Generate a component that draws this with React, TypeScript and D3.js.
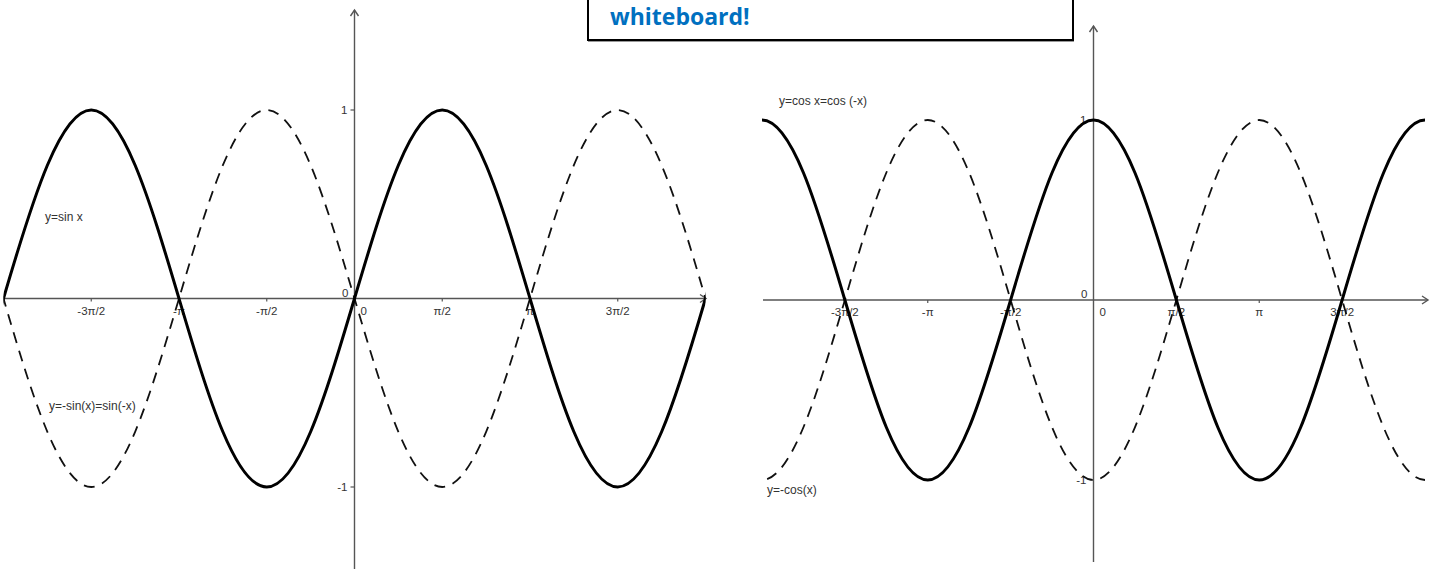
import React from "react";
import * as d3 from "d3";

// sample positions in multiples of π/4 (a little past -2π..2π so the spline ends are natural; clipped)
const quarterPiSteps = [-10, -9, -8, -7, -6, -5, -4, -3, -2, -1, 0, 1, 2, 3, 4, 5, 6, 7, 8, 9, 10];
const sinValues = [-1, -0.7071, 0, 0.7071, 1, 0.7071, 0, -0.7071, -1, -0.7071, 0, 0.7071, 1, 0.7071, 0, -0.7071, -1, -0.7071, 0, 0.7071, 1];
const negSinValues = [1, 0.7071, 0, -0.7071, -1, -0.7071, 0, 0.7071, 1, 0.7071, 0, -0.7071, -1, -0.7071, 0, 0.7071, 1, 0.7071, 0, -0.7071, -1];
const cosValues = [0, 0.7071, 1, 0.7071, 0, -0.7071, -1, -0.7071, 0, 0.7071, 1, 0.7071, 0, -0.7071, -1, -0.7071, 0, 0.7071, 1, 0.7071, 0];
const negCosValues = [0, -0.7071, -1, -0.7071, 0, 0.7071, 1, 0.7071, 0, -0.7071, -1, -0.7071, 0, 0.7071, 1, 0.7071, 0, -0.7071, -1, -0.7071, 0];

// x tick positions in multiples of π/2
const halfPiTicks = [-3, -2, -1, 0, 1, 2, 3];
const tickLabels = ["-3π/2", "-π", "-π/2", "0", "π/2", "π", "3π/2"];
const yTickValues = [1, -1];
const yTickLabels = ["1", "-1"];

const title = "whiteboard!";

const PI = Math.PI;

type Panel = {
  id: string;
  xRange: [number, number];
  yRange: [number, number];
  axisX: [number, number];
  axisY: [number, number];
  solid: number[];
  dashed: number[];
  labels: { text: string; x: number; y: number }[];
};

const panels: Panel[] = [
  {
    id: "left",
    xRange: [3.5, 705.5],
    yRange: [487, 110],
    axisX: [5, 706],
    axisY: [10, 569],
    solid: sinValues,
    dashed: negSinValues,
    labels: [
      { text: "y=sin x", x: 45, y: 221 },
      { text: "y=-sin(x)=sin(-x)", x: 49, y: 410 },
    ],
  },
  {
    id: "right",
    xRange: [762, 1425],
    yRange: [480, 120],
    axisX: [763, 1428],
    axisY: [26, 562],
    solid: cosValues,
    dashed: negCosValues,
    labels: [
      { text: "y=cos x=cos (-x)", x: 779, y: 105 },
      { text: "y=-cos(x)", x: 767, y: 494 },
    ],
  },
];

const axisColor = "#555";
const textColor = "#333";
const font = "Liberation Sans, Arial, sans-serif";

function PanelView({ p }: { p: Panel }) {
  const x = d3.scaleLinear().domain([-2 * PI, 2 * PI]).range(p.xRange);
  const y = d3.scaleLinear().domain([-1, 1]).range(p.yRange);
  const x0 = x(0);
  const y0 = y(0);
  const line = d3
    .line<number>()
    .x((_, i) => x((quarterPiSteps[i] * PI) / 4))
    .y((v) => y(v))
    .curve(d3.curveNatural);
  const clipId = `clip-${p.id}`;
  return (
    <g>
      <defs>
        <clipPath id={clipId}>
          <rect x={p.xRange[0]} y={0} width={p.xRange[1] - p.xRange[0]} height={569} />
        </clipPath>
      </defs>
      {/* axes */}
      <line x1={p.axisX[0]} x2={p.axisX[1]} y1={y0} y2={y0} stroke={axisColor} strokeWidth={1.4} />
      <path
        d={`M${p.axisX[1] - 6},${y0 - 4} L${p.axisX[1]},${y0} L${p.axisX[1] - 6},${y0 + 4}`}
        fill="none"
        stroke={axisColor}
        strokeWidth={1.4}
      />
      <line x1={x0} x2={x0} y1={p.axisY[0]} y2={p.axisY[1]} stroke={axisColor} strokeWidth={1.4} />
      <path
        d={`M${x0 - 4},${p.axisY[0] + 6} L${x0},${p.axisY[0]} L${x0 + 4},${p.axisY[0] + 6}`}
        fill="none"
        stroke={axisColor}
        strokeWidth={1.4}
      />
      {/* x ticks */}
      {halfPiTicks.map((t, i) => {
        const xx = x((t * PI) / 2);
        return (
          <g key={i}>
            {t !== 0 && <line x1={xx} x2={xx} y1={y0} y2={y0 + 3} stroke={axisColor} strokeWidth={1.2} />}
            <text
              x={t === 0 ? xx + 6 : xx}
              y={y0 + 16}
              fontSize={11.5}
              fontFamily={font}
              fill={textColor}
              textAnchor={t === 0 ? "start" : "middle"}
            >
              {tickLabels[i]}
            </text>
          </g>
        );
      })}
      {/* y ticks */}
      {yTickValues.map((v, i) => (
        <g key={i}>
          <line x1={x0 - 4} x2={x0} y1={y(v)} y2={y(v)} stroke={axisColor} strokeWidth={1.2} />
          <text x={x0 - 7} y={y(v) + 4} fontSize={11.5} fontFamily={font} fill={textColor} textAnchor="end">
            {yTickLabels[i]}
          </text>
        </g>
      ))}
      <text x={x0 - 6} y={y0 - 2} fontSize={11.5} fontFamily={font} fill={textColor} textAnchor="end">
        0
      </text>
      {/* curves */}
      <g clipPath={`url(#${clipId})`}>
        <path d={line(p.dashed) || ""} fill="none" stroke="#111" strokeWidth={1.8} strokeDasharray="11,8" />
        <path d={line(p.solid) || ""} fill="none" stroke="#000" strokeWidth={3} />
      </g>
      {p.labels.map((l, i) => (
        <text key={i} x={l.x} y={l.y} fontSize={12} fontFamily={font} fill={textColor}>
          {l.text}
        </text>
      ))}
    </g>
  );
}

export default function App() {
  return (
    <svg
      width={1433}
      height={569}
      style={{ position: "absolute", left: 0, top: 0, background: "#fff" }}
    >
      <rect x={0} y={0} width={1433} height={569} fill="#fff" />
      {panels.map((p) => (
        <PanelView key={p.id} p={p} />
      ))}
      <rect x={588} y={-10} width={485} height={50} fill="#fff" stroke="#000" strokeWidth={2} />
      <line x1={588} x2={1074} y1={41.5} y2={41.5} stroke="#999" strokeWidth={1} />
      <text x={610} y={25} fontSize={23} fontWeight="bold" fontFamily="Open Sans, sans-serif" fill="#0070C0">
        {title}
      </text>
    </svg>
  );
}
